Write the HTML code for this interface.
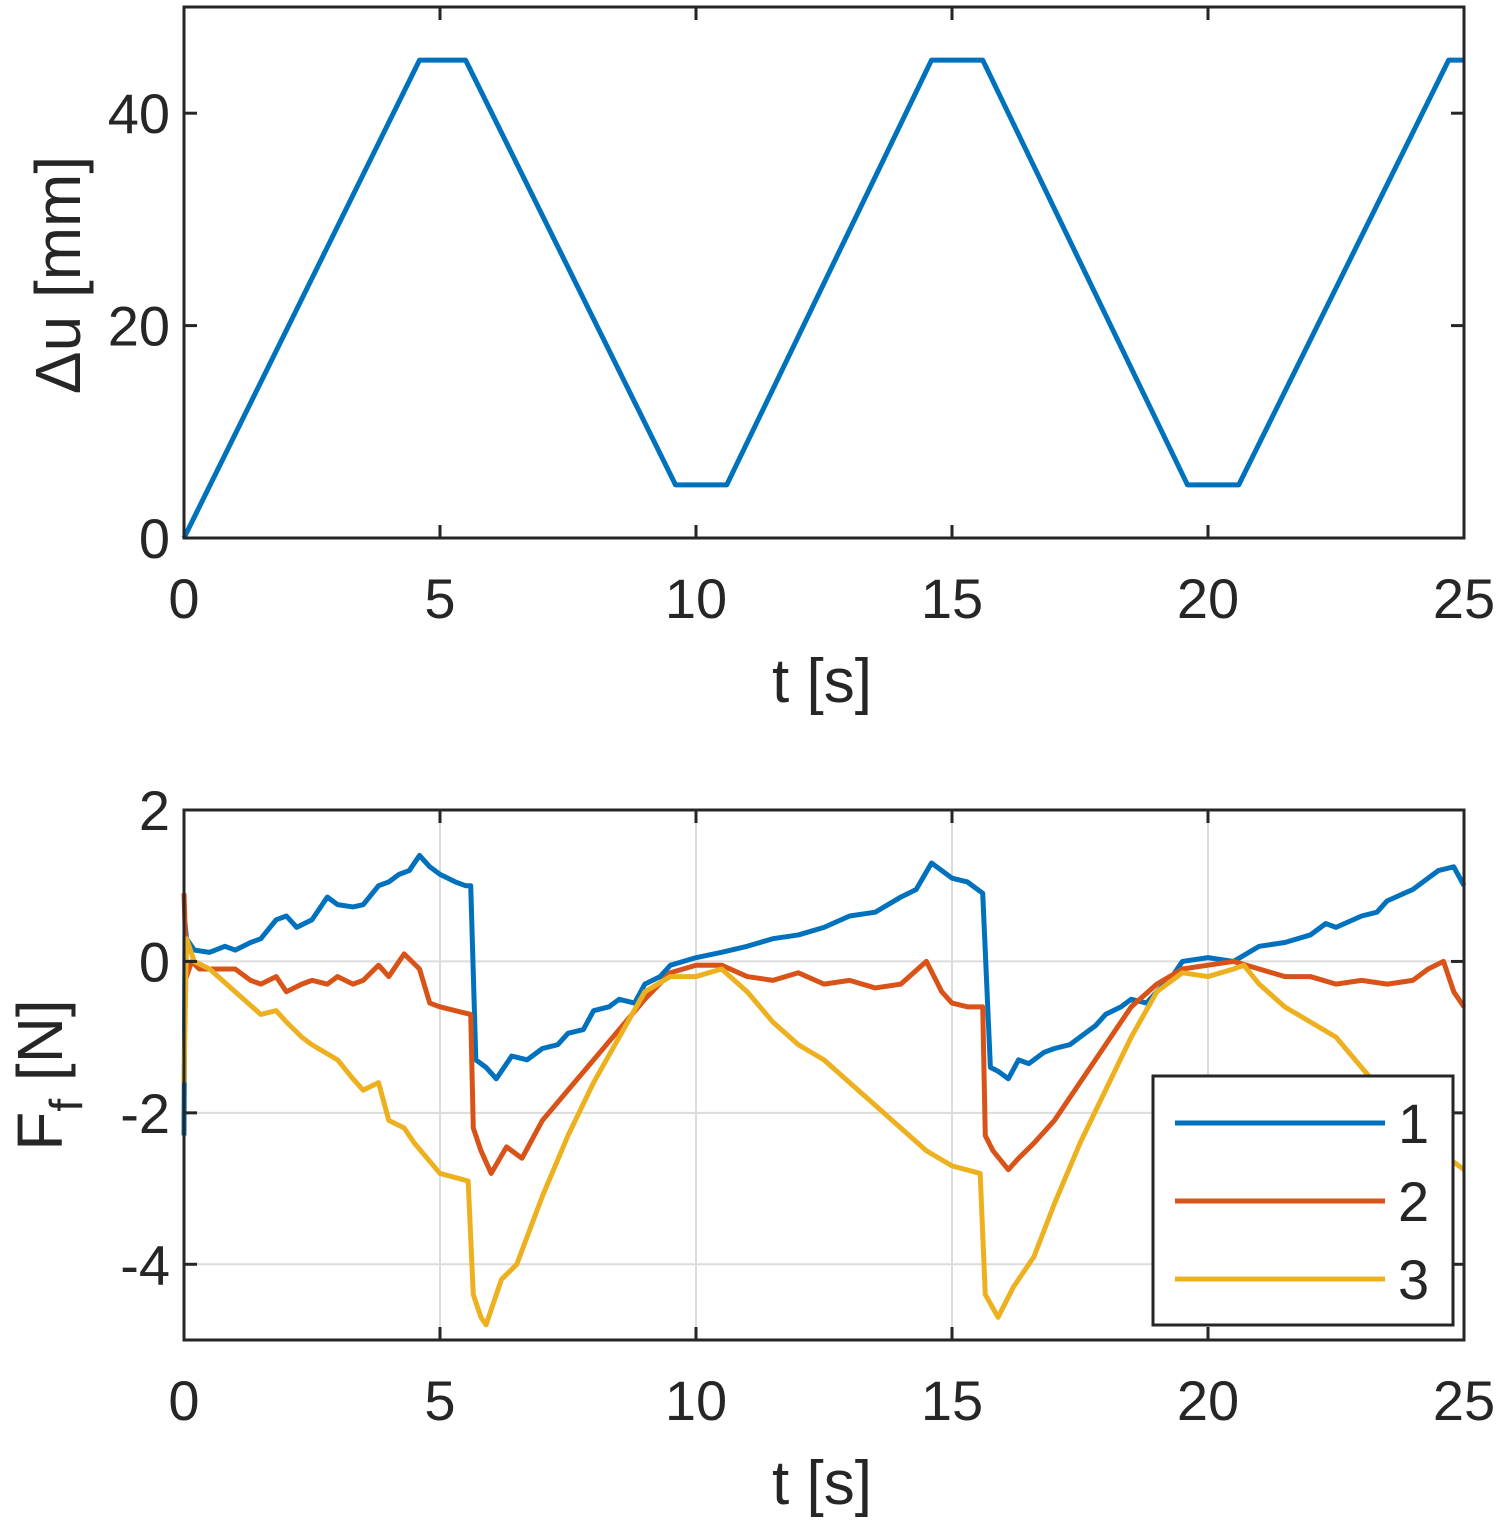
<!DOCTYPE html>
<html><head><meta charset="utf-8"><style>
body{margin:0;background:#fff;}
svg{display:block;font-family:"Liberation Sans",sans-serif;}
</style></head><body>
<svg id="fig" width="1499" height="1525">
<g id="top"></g>
<g id="bot"></g>
</svg>
<script>
// top chart data
const topT = [0, 4.6, 5.5, 9.6, 10.6, 14.6, 15.6, 19.6, 20.6, 24.7, 25];
const topU = [0, 45, 45, 5, 5, 45, 45, 5, 5, 45, 45];
const topYTicks = [0, 20, 40];
const xTicks = [0, 5, 10, 15, 20, 25];
// bottom chart data
const s1T = [0,0.02,0.05,0.2,0.5,0.8,1,1.3,1.5,1.8,2,2.2,2.5,2.8,3,3.3,3.5,3.8,4,4.2,4.4,4.6,4.8,5,5.3,5.5,5.6,5.7,5.9,6.1,6.4,6.7,7,7.3,7.5,7.8,8,8.3,8.5,8.8,9,9.3,9.5,10,10.5,11,11.5,12,12.5,13,13.5,14,14.3,14.6,15,15.3,15.5,15.6,15.75,15.9,16.1,16.3,16.5,16.8,17,17.3,17.5,17.8,18,18.3,18.5,18.8,19,19.3,19.5,20,20.5,21,21.5,22,22.3,22.5,23,23.3,23.5,24,24.3,24.5,24.8,25];
const s1F = [-2.3,0.5,0.3,0.15,0.12,0.2,0.15,0.25,0.3,0.55,0.6,0.45,0.55,0.85,0.75,0.72,0.75,1.0,1.05,1.15,1.2,1.4,1.25,1.15,1.05,1.0,1.0,-1.3,-1.4,-1.55,-1.25,-1.3,-1.15,-1.1,-0.95,-0.9,-0.65,-0.6,-0.5,-0.55,-0.3,-0.2,-0.05,0.05,0.12,0.2,0.3,0.35,0.45,0.6,0.65,0.85,0.95,1.3,1.1,1.05,0.95,0.9,-1.4,-1.45,-1.55,-1.3,-1.35,-1.2,-1.15,-1.1,-1.0,-0.85,-0.7,-0.6,-0.5,-0.55,-0.4,-0.2,0.0,0.05,0.0,0.2,0.25,0.35,0.5,0.45,0.6,0.65,0.8,0.95,1.1,1.2,1.25,1.0];
const s2T = [0,0.05,0.15,0.3,0.5,1,1.3,1.5,1.8,2,2.3,2.5,2.8,3,3.3,3.5,3.8,4,4.3,4.6,4.8,5,5.3,5.6,5.65,5.8,6,6.3,6.6,7,7.5,8,8.5,9,9.5,10,10.5,11,11.5,12,12.5,13,13.5,14,14.5,14.8,15,15.3,15.6,15.65,15.8,16.1,16.3,16.6,17,17.5,18,18.5,19,19.5,20,20.5,21,21.5,22,22.5,23,23.5,24,24.3,24.6,24.8,25];
const s2F = [0.9,-0.2,0.0,-0.1,-0.1,-0.1,-0.25,-0.3,-0.2,-0.4,-0.3,-0.25,-0.3,-0.2,-0.3,-0.25,-0.05,-0.2,0.1,-0.1,-0.55,-0.6,-0.65,-0.7,-2.2,-2.5,-2.8,-2.45,-2.6,-2.1,-1.7,-1.3,-0.9,-0.5,-0.15,-0.05,-0.05,-0.2,-0.25,-0.15,-0.3,-0.25,-0.35,-0.3,0.0,-0.4,-0.55,-0.6,-0.6,-2.3,-2.5,-2.75,-2.6,-2.4,-2.1,-1.6,-1.1,-0.6,-0.3,-0.1,-0.05,0.0,-0.1,-0.2,-0.2,-0.3,-0.25,-0.3,-0.25,-0.1,0.0,-0.4,-0.6];
const s3T = [0,0.05,0.2,0.5,1,1.5,1.8,2,2.3,2.5,3,3.3,3.5,3.8,4,4.3,4.5,5,5.55,5.65,5.8,5.9,6.2,6.5,7,7.5,8,8.5,9,9.5,10,10.5,11,11.5,12,12.5,13,13.5,14,14.5,15,15.55,15.65,15.9,16.2,16.6,17,17.5,18,18.5,19,19.5,20,20.5,20.7,21,21.5,22,22.5,23,23.5,24,24.5,25];
const s3F = [-1.6,0.3,0.0,-0.1,-0.4,-0.7,-0.65,-0.8,-1.0,-1.1,-1.3,-1.55,-1.7,-1.6,-2.1,-2.2,-2.4,-2.8,-2.9,-4.4,-4.7,-4.8,-4.2,-4.0,-3.1,-2.3,-1.6,-1.0,-0.4,-0.2,-0.2,-0.1,-0.4,-0.8,-1.1,-1.3,-1.6,-1.9,-2.2,-2.5,-2.7,-2.8,-4.4,-4.7,-4.3,-3.9,-3.2,-2.4,-1.7,-1.0,-0.4,-0.15,-0.2,-0.1,-0.05,-0.3,-0.6,-0.8,-1.0,-1.4,-1.8,-2.2,-2.5,-2.75];
const botYTicks = [2, 0, -2, -4];
const legendLabels = ['1', '2', '3'];
const colors = ['#0072BD', '#D95319', '#EDB120'];

const NS = 'http://www.w3.org/2000/svg';
function mk(parent, tag, attrs, text){
  const e = document.createElementNS(NS, tag);
  for (const k in attrs) e.setAttribute(k, attrs[k]);
  if (text !== undefined) e.textContent = text;
  parent.appendChild(e); return e;
}
const L = 184, R = 1464;
const xs = t => L + (R - L) * t / 25;
const tTop = 7, tBot = 538;
const ysT = v => tBot - (tBot - tTop) * v / 50;
const bTop = 810, bBot = 1340;
const ysB = v => bBot - (bBot - bTop) * (v + 5) / 7;

const gT = document.getElementById('top');
const gB = document.getElementById('bot');

xTicks.forEach(t => { if (t > 0 && t < 25) {
  const g = mk(gB, 'line', {x1: xs(t), x2: xs(t), y1: bTop, y2: bBot, stroke: '#dcdcdc', 'stroke-width': 2});
  
  
}});
botYTicks.forEach(v => { if (v < 2) {
  const g = mk(gB, 'line', {x1: L, x2: R, y1: ysB(v), y2: ysB(v), stroke: '#dcdcdc', 'stroke-width': 2});
  
  
}});

let p = mk(gT, 'polyline', {points: topT.map((t, i) => xs(t) + ',' + ysT(topU[i])).join(' '), fill: 'none', stroke: colors[0], 'stroke-width': 5, 'stroke-linejoin': 'round'});



[[s1T, s1F], [s2T, s2F], [s3T, s3F]].forEach((s, k) => {
  const l = mk(gB, 'polyline', {points: s[0].map((t, i) => xs(t) + ',' + ysB(s[1][i])).join(' '), fill: 'none', stroke: colors[k], 'stroke-width': 5, 'stroke-linejoin': 'round'});
  
  
});

function frame(g, top, bot, yTicks, ys, xlabY, name){
  const f = mk(g, 'rect', {x: L, y: top, width: R - L, height: bot - top, fill: 'none', stroke: '#262626', 'stroke-width': 3});
  
  
  xTicks.forEach(t => {
    mk(g, 'line', {x1: xs(t), x2: xs(t), y1: bot, y2: bot - 13, stroke: '#262626', 'stroke-width': 3});
    mk(g, 'line', {x1: xs(t), x2: xs(t), y1: top, y2: top + 13, stroke: '#262626', 'stroke-width': 3});
    const tx = mk(g, 'text', {x: xs(t), y: bot + 80, 'font-size': 56, 'text-anchor': 'middle', fill: '#262626'}, t);
    
    
  });
  yTicks.forEach(v => {
    const y = ys(v);
    mk(g, 'line', {x1: L, x2: L + 13, y1: y, y2: y, stroke: '#262626', 'stroke-width': 3});
    mk(g, 'line', {x1: R, x2: R - 13, y1: y, y2: y, stroke: '#262626', 'stroke-width': 3});
    const tx = mk(g, 'text', {x: L - 14, y: y + 20, 'font-size': 56, 'text-anchor': 'end', fill: '#262626'}, v);
    
    
  });
  const xl = mk(g, 'text', {x: 822, y: xlabY, 'font-size': 62, 'text-anchor': 'middle', fill: '#262626'}, 't [s]');
  
  
}
frame(gT, tTop, tBot, topYTicks, ysT, 702, 'top');
frame(gB, bTop, bBot, botYTicks, ysB, 1504, 'bottom');

let yl = mk(gT, 'text', {x: 0, y: 0, 'font-size': 64, 'text-anchor': 'middle', fill: '#262626', transform: 'translate(80,275) rotate(-90)'}, 'Δu [mm]');


yl = mk(gB, 'text', {x: 0, y: 0, 'font-size': 64, 'text-anchor': 'middle', fill: '#262626', transform: 'translate(62,1075) rotate(-90)'});


mk(yl, 'tspan', {}, 'F');
mk(yl, 'tspan', {dy: 20, 'font-size': 46}, 'f');
mk(yl, 'tspan', {dy: -20}, ' [N]');

const lg = mk(gB, 'g', {});


mk(lg, 'rect', {x: 1153, y: 1076, width: 300, height: 249, fill: '#fff', stroke: '#262626', 'stroke-width': 3});
legendLabels.forEach((lab, i) => {
  const y = 1123 + i * 78;
  const e = mk(lg, 'g', {});
  
  
  mk(e, 'line', {x1: 1175, x2: 1385, y1: y, y2: y, stroke: colors[i], 'stroke-width': 5});
  mk(e, 'text', {x: 1398, y: y + 20, 'font-size': 56, fill: '#262626'}, lab);
});
</script>
</body></html>
